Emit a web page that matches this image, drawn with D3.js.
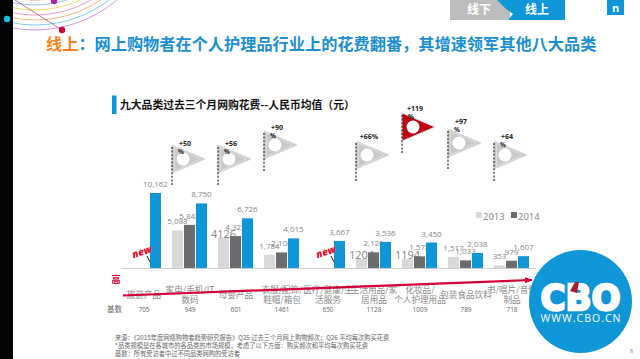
<!DOCTYPE html>
<html>
<head>
<meta charset="utf-8">
<script src="https://d3js.org/d3.v7.min.js"></script>
<style>
  html, body { margin: 0; padding: 0; background: #fff; overflow: hidden; }
  text { font-family: "Noto Sans CJK SC", "Open Sans", sans-serif; }
  .num { font-family: "Open Sans", "Noto Sans", sans-serif; }
</style>
</head>
<body>
<div id="chart"></div>
<script>
// values
var categories = ["旅游产品", "家电/手机/IT\n数码", "母婴产品", "衣服/配饰/\n鞋帽/箱包", "医疗/健康/生\n活服务", "生活用品/家\n居用品", "化妆品/\n个人护理用品", "包装食品饮料", "书/唱片/音像\n制品"];
var baseCounts = [705, 949, 601, 1461, 650, 1128, 1009, 789, 718];
var values2013 = [null, 5083, 4126, 1784, null, 1204, 1194, 1517, 353];
var values2014 = [null, 5842, 4325, 2108, null, 2126, 1578, 1033, 979];
var values2015 = [10162, 8750, 6726, 4015, 3667, 3536, 3450, 2038, 1607];
var labels2013 = ["", "5,083", "4126", "1,784", "", "1204", "1194", "1,517", "353"];
var labels2014 = ["", "5,842", "4,325", "2,108", "", "2,126", "1,578", "1,033", "979"];
var labels2015 = ["10,162", "8,750", "6,726", "4,015", "3,667", "3,536", "3,450", "2,038", "1,607"];
var growthCats = [1, 2, 3, 5, 6, 7, 8];
var growthLabels = ["+50", "+56", "+90", "+66%", "+119", "+97", "+64"];
var newCats = [0, 4];
var footnotes = [
  "来源：《2015年度网络购物者趋势研究报告》Q25 过去三个月网上购物频次；Q26 平均每次购买花费",
  "*品类规模是在各城市的各品类的市场规模，考虑了以下方面：购买频次和平均每次购买花费",
  "基数：所有受访者中过不同品类网购的受访者"
];

var width = 640, height = 359;
var blue = "#0f96d6", lightGray = "#d9d9d9", darkGray = "#6b6c70", labelGray = "#858585", red = "#d4003a";

var svg = d3.select("#chart").append("svg")
  .attr("width", width)
  .attr("height", height)
  .style("display", "block");

// rainbow arcs in the corner, the black strip covers their left ends
var corner = svg.append("g");
var arcColors = ["#c98fe0", "#6fcbea", "#f2b06e", "#ee8fb8", "#f0d560", "#8cb8ec", "#ec8a78"];
corner.selectAll("circle").data(arcColors).enter().append("circle")
  .attr("cx", 35).attr("cy", -97)
  .attr("r", function (d, i) { return 127 - i * 5; })
  .attr("fill", "none")
  .attr("stroke", function (d) { return d; })
  .attr("stroke-width", 0.9);
corner.append("line").attr("x1", 15).attr("y1", 0).attr("x2", 62).attr("y2", 30)
  .attr("stroke", "#a04060").attr("stroke-width", 0.7);
corner.append("circle").attr("cx", 62).attr("cy", 30).attr("r", 3.2).attr("fill", "#d4003a");
corner.append("circle").attr("cx", 54).attr("cy", 1).attr("r", 3.2).attr("fill", "#b01fb0");

// black strip on the left
svg.append("rect").attr("width", 13).attr("height", height).attr("fill", "#040406");
svg.append("circle").attr("cx", 7).attr("cy", 19).attr("r", 3.2).attr("fill", "#19c0e0");

// tabs top right
svg.append("rect").attr("x", 450).attr("y", 0).attr("width", 60).attr("height", 20).attr("fill", "#bdbdbd");
svg.append("path").attr("d", "M497,0H565V20H508L513,14L505,8Z").attr("fill", blue);
svg.append("text").attr("x", 479).attr("y", 14).attr("text-anchor", "middle")
  .attr("font-size", 12).attr("font-weight", 700).attr("fill", "#fff").text("线下");
svg.append("text").attr("x", 537).attr("y", 14).attr("text-anchor", "middle")
  .attr("font-size", 12).attr("font-weight", 700).attr("fill", "#fff").text("线上");
svg.append("rect").attr("x", 607).attr("y", 0).attr("width", 17).attr("height", 15).attr("fill", blue);
svg.append("text").attr("class", "num").attr("x", 615.5).attr("y", 12).attr("text-anchor", "middle")
  .attr("font-size", 11).attr("font-weight", 700).attr("fill", "#fff").text("n");

// title
var title = svg.append("text").attr("x", 46).attr("y", 50)
  .attr("font-size", 16.2).attr("font-weight", 700);
title.append("tspan").attr("fill", "#f5821f").text("线上");
title.append("tspan").attr("fill", "#1a8fd1").text("：网上购物者在个人护理品行业上的花费翻番，其增速领军其他八大品类");

// subtitle
svg.append("rect").attr("x", 112).attr("y", 95.5).attr("width", 4.5).attr("height", 18.5).attr("fill", blue);
svg.append("text").attr("x", 120).attr("y", 109)
  .attr("font-size", 10.8).attr("font-weight", 700).attr("fill", "#111")
  .text("九大品类过去三个月网购花费--人民币均值（元）");

// scales
var x0 = d3.scaleBand().domain(d3.range(categories.length)).range([121, 535]);
var x1 = d3.scaleBand().domain([0, 1, 2]).range([5, 40]).paddingInner(0.08);
var y = d3.scaleLinear().domain([0, 10162]).range([268, 193]);

// baseline
svg.append("g").attr("transform", "translate(0,268)")
  .call(d3.axisBottom(x0).tickSize(0).tickFormat(""))
  .call(function (g) { g.select(".domain").attr("stroke", "#cfcfcf"); });

var seriesValues = [values2013, values2014, values2015];
var seriesLabels = [labels2013, labels2014, labels2015];
var seriesColors = [lightGray, darkGray, blue];

seriesValues.forEach(function (vals, s) {
  var rows = vals.map(function (v, i) { return { i: i, v: v, label: seriesLabels[s][i] }; })
    .filter(function (d) { return d.v !== null; });

  svg.append("g").selectAll("rect").data(rows).enter().append("rect")
    .attr("x", function (d) { return x0(d.i) + x1(s); })
    .attr("y", function (d) { return y(d.v); })
    .attr("width", x1.bandwidth())
    .attr("height", function (d) { return y(0) - y(d.v); })
    .attr("fill", seriesColors[s]);

  svg.append("g").selectAll("text").data(rows).enter().append("text")
    .attr("class", "num")
    .attr("x", function (d) { return x0(d.i) + x1(s) + x1.bandwidth() / 2; })
    .attr("y", function (d) {
      // the three labels without a thousands comma are bigger and sit lower
      return y(d.v) - (d.label.indexOf(",") < 0 && d.v > 1000 ? 0 : 6);
    })
    .attr("text-anchor", "middle")
    .attr("font-size", function (d) { return d.label.indexOf(",") < 0 && d.v > 1000 ? 11 : 8; })
    .attr("fill", labelGray)
    .text(function (d) { return d.label; });
});

// legend
[["2013", lightGray, 476], ["2014", darkGray, 511]].forEach(function (d) {
  svg.append("rect").attr("x", d[2]).attr("y", 212).attr("width", 6).attr("height", 6).attr("fill", d[1]);
  svg.append("text").attr("class", "num").attr("x", d[2] + 7).attr("y", 220)
    .attr("font-size", 9.5).attr("fill", labelGray).text(d[0]);
});

// category labels and base counts
svg.append("g").selectAll("text").data(categories).enter().append("text")
  .attr("text-anchor", "middle")
  .attr("font-size", 8.6)
  .attr("fill", "#8a8a8a")
  .each(function (d, i) {
    var lines = d.split("\n");
    d3.select(this).selectAll("tspan").data(lines).enter().append("tspan")
      .attr("x", x0(i) + 23)
      .attr("y", function (l, j) { return (lines.length > 1 ? 293 : 298) + j * 9.5; })
      .text(function (l) { return l; });
  });

svg.append("g").selectAll("text").data(baseCounts).enter().append("text")
  .attr("class", "num")
  .attr("x", function (d, i) { return x0(i) + 23; })
  .attr("y", 312)
  .attr("text-anchor", "middle")
  .attr("font-size", 6.5)
  .attr("fill", "#666")
  .text(function (d) { return d; });

svg.append("text").attr("x", 107).attr("y", 312).attr("font-size", 7.5).attr("fill", "#666").text("基数");
svg.append("text").attr("x", 116).attr("y", 283).attr("text-anchor", "middle")
  .attr("font-size", 9).attr("font-weight", 700).attr("fill", red).text("高");

// red trend arrow
svg.append("defs").append("marker")
  .attr("id", "head").attr("viewBox", "0 0 8 6").attr("refX", 7).attr("refY", 3)
  .attr("markerWidth", 8).attr("markerHeight", 6).attr("markerUnits", "userSpaceOnUse")
  .attr("orient", "auto")
  .append("path").attr("d", "M0,0L8,3L0,6Z").attr("fill", "#d6002a");
svg.append("line").attr("x1", 123).attr("y1", 295.5).attr("x2", 532).attr("y2", 280)
  .attr("stroke", red).attr("stroke-width", 2.2).attr("marker-end", "url(#head)");

// growth markers, y centre and text offsets for each one
var markerCy = [159, 159, 145, 155, 127, 143, 155];
var markerTextDy = [-16, -16, -18, -19, -19, -22, -19];
function triPath(mx, cy, inset) {
  return "M" + (mx + inset) + "," + (cy - 14 + inset * 0.9) +
    "L" + (mx + 33 - inset * 1.7) + "," + cy +
    "L" + (mx + inset) + "," + (cy + 14 - inset * 0.9) + "Z";
}
growthCats.forEach(function (c, i) {
  var mx = x0(c) + x1(0);
  var cy = markerCy[i];
  var hot = growthLabels[i] === "+119";
  var g = svg.append("g");
  g.append("path").attr("d", triPath(mx, cy, 0))
    .attr("fill", hot ? "#c00010" : "#c9c9c9")
    .attr("stroke", "#d9d9d9").attr("stroke-width", 1);
  g.append("path").attr("d", triPath(mx, cy, 2.5))
    .attr("fill", "none")
    .attr("stroke", hot ? "#c00010" : "#e2e2e2").attr("stroke-width", 0.8);
  g.append("circle").attr("cx", mx + 11).attr("cy", cy).attr("r", 6.5).attr("fill", "#fff");
  g.append("line").attr("x1", mx).attr("x2", mx).attr("y1", cy - 12).attr("y2", cy + 27)
    .attr("stroke", "#444").attr("stroke-width", 1.4).attr("stroke-dasharray", "2,1.6");
  g.append("text").attr("class", "num").attr("x", mx + 13).attr("y", cy + markerTextDy[i] + 2.5)
    .attr("text-anchor", "middle").attr("font-size", 7).attr("font-weight", 700).attr("fill", "#222")
    .text(growthLabels[i]);
  if (growthLabels[i].indexOf("%") < 0) {
    g.append("text").attr("class", "num").attr("x", mx + 9).attr("y", cy + markerTextDy[i] + 11)
      .attr("text-anchor", "middle").attr("font-size", 6.5).attr("font-weight", 700).attr("fill", "#222")
      .text("%");
  }
});

// "new" stamps
newCats.forEach(function (c) {
  var nx = x0(c) + 22;
  svg.append("line").attr("x1", nx + 4).attr("y1", 256).attr("x2", nx + 7).attr("y2", 262)
    .attr("stroke", "#111").attr("stroke-width", 0.9);
  svg.append("text").attr("class", "num")
    .attr("transform", "translate(" + nx + ",255) rotate(-18)")
    .attr("text-anchor", "middle")
    .attr("font-size", 10).attr("font-weight", 800).attr("font-style", "italic")
    .attr("fill", "#d8102c").text("new");
});

// footnotes
svg.append("g").selectAll("text").data(footnotes).enter().append("text")
  .attr("x", 115)
  .attr("y", function (d, i) { return 339.5 + i * 8; })
  .attr("font-size", 6.25)
  .attr("fill", "#666")
  .text(function (d) { return d; });

// CBO badge
var badge = svg.append("g");
badge.append("circle").attr("cx", 580.5).attr("cy", 301.5).attr("r", 51.5).attr("fill", "#0f96d6");
badge.append("text").attr("x", 580.5).attr("y", 310)
  .attr("text-anchor", "middle")
  .attr("textLength", 80).attr("lengthAdjust", "spacingAndGlyphs")
  .style("font-family", "'DejaVu Sans', sans-serif")
  .attr("font-size", 36).attr("font-weight", 700)
  .attr("fill", "#fff").attr("stroke", "#fff").attr("stroke-width", 2.4)
  .text("CBO");
badge.append("path").attr("d", "M570,291L575,282H579L577,293Z").attr("fill", "#a8202a");
badge.append("text").attr("x", 580.5).attr("y", 322)
  .attr("text-anchor", "middle")
  .attr("textLength", 80)
  .style("font-family", "'Open Sans', sans-serif")
  .attr("font-size", 10.5)
  .attr("fill", "#fff").text("WWW.CBO.CN");
svg.append("text").attr("class", "num").attr("x", 631.5).attr("y", 353)
  .attr("text-anchor", "middle").attr("font-size", 5).attr("fill", "#3a86c8").text("8");
</script>
</body>
</html>
